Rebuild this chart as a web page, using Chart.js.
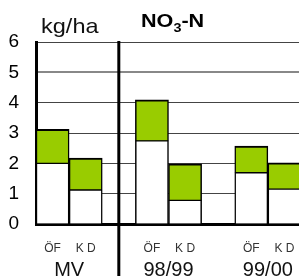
<!DOCTYPE html>
<html>
<head>
<meta charset="utf-8">
<script src="https://cdn.jsdelivr.net/npm/chart.js@4/dist/chart.umd.min.js"></script>
<style>
  html, body { margin: 0; padding: 0; background: #fff; overflow: hidden; }
  /* plot runs slightly past the right edge, as in the original */
  #wrap { width: 301px; height: 276px; position: relative; }
</style>
</head>
<body>
<div id="wrap"><canvas id="chart"></canvas></div>
<script>
// Data
const slotLabels = ['ÖF', 'K D', '', 'ÖF', 'K D', '', 'ÖF', 'K D'];
const groupLabels = ['MV', '98/99', '99/00'];
const groupStart = [0, 3, 6];          // first slot of each group
const lowerValues = [2.0, 1.12, null, 2.74, 0.78, null, 1.69, 1.15];   // white part
const upperValues = [1.12, 1.05, null, 1.35, 1.2, null, 0.88, 0.87];  // green part
const yTicks = [0, 1, 2, 3, 4, 5, 6];

const FONT = 'Arial, "Liberation Sans", sans-serif';

// Separator line, group names, unit and title
const extras = {
    id: 'extras',
    afterDatasetsDraw(chart) {
        const ctx = chart.ctx, x = chart.scales.x, area = chart.chartArea;
        ctx.save();
        // vertical separator in the empty slot
        const sx = x.getPixelForValue(2);
        ctx.strokeStyle = '#000';
        ctx.lineWidth = 3;
        ctx.beginPath();
        ctx.moveTo(sx, area.top - 1);
        ctx.lineTo(sx, chart.height);
        ctx.stroke();

        // group names
        ctx.fillStyle = '#111';
        ctx.font = '20px ' + FONT;
        ctx.textAlign = 'center';
        ctx.textBaseline = 'alphabetic';
        groupStart.forEach((s, i) => {
            const cx = (x.getPixelForValue(s) + x.getPixelForValue(s + 1)) / 2;
            ctx.fillText(groupLabels[i], cx, 276);
        });

        // unit
        ctx.textAlign = 'left';
        ctx.save();
        ctx.translate(41, 33);
        ctx.scale(1.12, 1);
        ctx.font = '21px ' + FONT;
        ctx.fillText('kg/ha', 0, 0);
        ctx.restore();

        // title NO3-N
        ctx.fillStyle = '#000';
        ctx.save();
        ctx.translate(141, 27);
        ctx.scale(1.2, 1);
        ctx.font = 'bold 18px ' + FONT;
        let w = ctx.measureText('NO').width;
        ctx.fillText('NO', 0, 0);
        ctx.font = 'bold 12px ' + FONT;
        ctx.fillText('3', w, 5);
        w += ctx.measureText('3').width;
        ctx.font = 'bold 18px ' + FONT;
        ctx.fillText('-N', w, 0);
        ctx.restore();
        ctx.restore();
    }
};

new Chart(document.getElementById('chart'), {
    type: 'bar',
    data: {
        labels: slotLabels,
        datasets: [
            {
                data: lowerValues,
                backgroundColor: '#ffffff',
                borderColor: '#000',
                borderWidth: { top: 1, left: 1.5, right: 1.5, bottom: 0 },
                borderSkipped: false
            },
            {
                data: upperValues,
                backgroundColor: '#99cc00',
                borderColor: '#000',
                borderWidth: { top: 2, left: 1.5, right: 1.5, bottom: 1 },
                borderSkipped: false
            }
        ]
    },
    options: {
        responsive: true,
        maintainAspectRatio: false,
        animation: false,
        events: [],
        layout: { padding: { top: 42, right: 0, left: 0, bottom: 0 } },
        datasets: { bar: { barPercentage: 1, categoryPercentage: 1 } },
        plugins: { legend: { display: false }, tooltip: { enabled: false } },
        scales: {
            x: {
                stacked: true,
                grid: {
                    display: true,
                    drawOnChartArea: false,
                    drawTicks: true,
                    tickLength: 17,
                    tickColor: 'rgba(0,0,0,0)'
                },
                border: { display: true, color: '#000', width: 3 },
                ticks: {
                    color: '#333',
                    font: { family: FONT, size: 12 },
                    padding: 0,
                    maxRotation: 0,
                    autoSkip: false
                },
                afterFit(scale) { scale.height = 52; }
            },
            y: {
                stacked: true,
                min: 0,
                max: 6,
                afterBuildTicks(scale) { scale.ticks = yTicks.map(v => ({ value: v })); },
                grid: {
                    drawTicks: false,
                    color: ctx => ctx.tick && ctx.tick.value === 5 ? '#888' : '#444',
                    lineWidth: ctx => ctx.tick && ctx.tick.value === 5 ? 2 : 1
                },
                border: { display: true, color: '#000', width: 3 },
                ticks: {
                    color: '#000',
                    font: { family: FONT, size: 19 },
                    padding: 17
                },
                afterFit(scale) { scale.width = 36; }
            }
        }
    },
    plugins: [extras]
});
</script>
</body>
</html>
